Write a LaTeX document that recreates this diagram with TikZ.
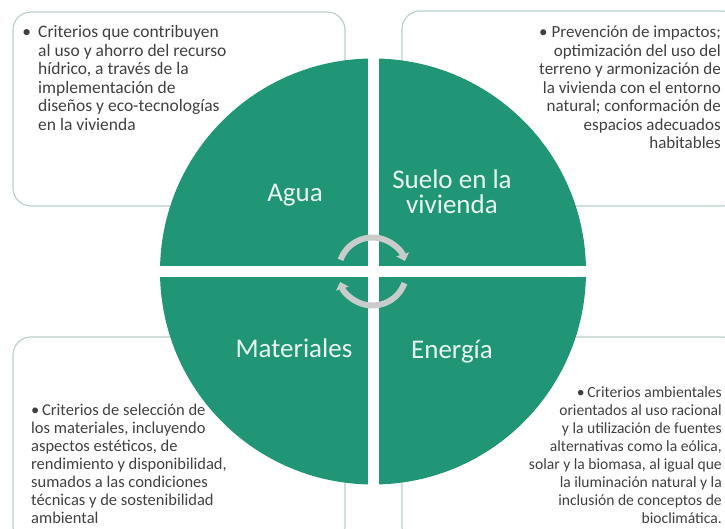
\documentclass[tikz,border=0pt]{standalone}
\usepackage{fontspec}
\setmainfont{Carlito}
\usepackage{tikz}
\usetikzlibrary{arrows.meta}

\definecolor{quadgreen}{RGB}{32,150,118}
\definecolor{boxline}{RGB}{186,208,200}
\definecolor{bodygray}{RGB}{64,64,64}
\definecolor{labelwhite}{RGB}{234,246,240}
\definecolor{cyclegray}{RGB}{200,204,202}

\begin{document}
\begin{tikzpicture}[x=1pt, y=-1pt, >={Triangle[length=7pt,width=13pt]},
    infobox/.style={draw=boxline, line width=1.2pt, rounded corners=18pt, inner sep=0pt},
    infotext/.style={text=bodygray, inner sep=0pt},
    quadlabel/.style={text=labelwhite, inner sep=0pt, align=center, font=\fontsize{27}{25}\selectfont},
    cycle/.style={draw=cyclegray, line width=6pt}]
    \useasboundingbox (0,0) rectangle (725,529);

    % the four rounded text boxes
    \node[infobox, minimum width=332, minimum height=194] (aguaBox) at (179,109) {};
    \node[infobox, minimum width=338, minimum height=195] (sueloBox) at (571,108.5) {};
    \node[infobox, minimum width=332, minimum height=208] (materialesBox) at (179,441) {};
    \node[infobox, minimum width=338, minimum height=208] (energiaBox) at (571,441) {};

    % the texts of the boxes (anchored at the baseline of their last line)
    \node[infotext, anchor=base west, align=left, font=\fontsize{17.5}{18.5}\selectfont] (aguaTxt) at (38,130.5)
        {\llap{\textbullet\hspace{7pt}}Criterios que contribuyen\\al uso y ahorro del recurso\\h\'idrico, a trav\'es de la\\implementaci\'on de\\dise\~nos y eco-tecnolog\'ias\\en la vivienda};
    \node[infotext, anchor=base east, align=right, font=\fontsize{17}{18.5}\selectfont] (sueloTxt) at (721,149)
        {\textbullet\ Prevenci\'on de impactos;\\optimizaci\'on del uso del\\terreno y armonizaci\'on de\\la vivienda con el entorno\\natural; conformaci\'on de\\espacios adecuados\\habitables};
    \node[infotext, anchor=base west, align=left, font=\fontsize{16.5}{17.9}\selectfont] (materialesTxt) at (31,523)
        {\textbullet\,Criterios de selecci\'on de\\los materiales, incluyendo\\aspectos est\'eticos, de\\rendimiento y disponibilidad,\\sumados a las condiciones\\t\'ecnicas y de sostenibilidad\\ambiental};
    \node[infotext, anchor=base east, align=right, font=\fontsize{15.6}{17.9}\selectfont] (energiaTxt) at (722,523)
        {\textbullet\,Criterios ambientales\\orientados al uso racional\\y la utilizaci\'on de fuentes\\alternativas como la e\'olica,\\solar y la biomasa, al igual que\\la iluminaci\'on natural y la\\inclusi\'on de conceptos de\\bioclim\'atica.};

    % the disc cut in four by a white cross
    \node[circle, fill=quadgreen, minimum size=426, inner sep=0pt] (disc) at (373,271.5) {};
    \coordinate (hub) at (372.5,271.5);
    \draw[white, line width=11pt] (disc.north) -- (disc.south);
    \draw[white, line width=11pt] (disc.west) -- (disc.east);

    \node[quadlabel, anchor=base] (agua) at (295,202) {Agua};
    \node[quadlabel, anchor=base] (suelo) at (452,214) {Suelo en la\\vivienda};
    \node[quadlabel, anchor=base] (materiales) at (294,357) {Materiales};
    \node[quadlabel, anchor=base] (energia) at (452,358) {Energ\'ia};

    % the two arrows turning round the centre
    \draw[cycle, ->] ([shift={(200:34)}]hub) arc[start angle=200, end angle=342, radius=34];
    \draw[cycle, ->] ([shift={(20:34)}]hub) arc[start angle=20, end angle=162, radius=34];
\end{tikzpicture}
\end{document}
